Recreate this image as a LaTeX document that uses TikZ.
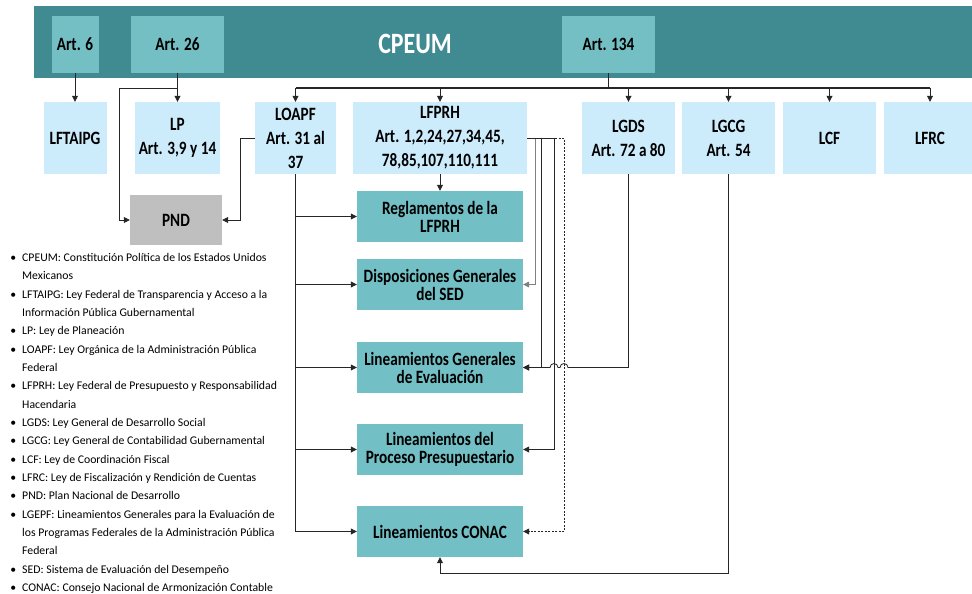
\documentclass[tikz,border=0pt]{standalone}
\usepackage{fontspec}
\setmainfont{Carlito}
\newfontfamily\cajas[FakeStretch=0.81]{Carlito}
\usepackage{tikz}
\usetikzlibrary{arrows.meta}

\definecolor{banda}{HTML}{3F8B91}
\definecolor{articulo}{HTML}{74BFC4}
\definecolor{leyazul}{HTML}{CCEBFB}
\definecolor{lineam}{HTML}{72BFC5}
\definecolor{plan}{HTML}{BFBFBF}

\begin{document}
\begin{tikzpicture}[x=1pt,y=-1pt,
	art/.style={rectangle,fill=articulo,minimum height=57pt,inner sep=0pt,font=\cajas\bfseries\fontsize{18.8}{22}\selectfont},
	ley/.style={rectangle,fill=leyazul,minimum height=72pt,inner sep=0pt,align=center,font=\cajas\bfseries\fontsize{18.8}{24}\selectfont},
	lin/.style={rectangle,fill=lineam,minimum width=166pt,minimum height=51pt,inner sep=0pt,align=center,font=\cajas\bfseries\fontsize{18.8}{18}\selectfont},
	linea/.style={line width=0.8pt,color=black!85},
	flecha/.style={linea,-{Triangle[length=6pt,width=6pt]}}]

	\useasboundingbox (0,0) rectangle (972,594);

	% constitution band

	\fill[banda] (34,6) rectangle (972,78);
	\node[text=white,font=\cajas\bfseries\fontsize{29.5}{32}\selectfont] (cpeum) at (415,44) {CPEUM};
	\node[art,minimum width=47pt] (art6) at (75,44.5) {Art. 6};
	\node[art,minimum width=93pt] (art26) at (177.5,44.5) {Art. 26};
	\node[art,minimum width=93pt] (art134) at (608.5,44.5) {Art. 134};

	% laws

	\node[ley,minimum width=63pt] (lftaipg) at (75,138) {LFTAIPG};
	\node[ley,minimum width=85pt] (lp) at (177.5,138) {LP\\Art. 3,9 y 14};
	\node[ley,minimum width=81pt] (loapf) at (295.5,138) {LOAPF\\Art. 31 al\\37};
	\node[ley,minimum width=174pt] (lfprh) at (440,138) {LFPRH\\Art. 1,2,24,27,34,45,\\78,85,107,110,111};
	\node[ley,minimum width=93pt] (lgds) at (628.5,138) {LGDS\\Art. 72 a 80};
	\node[ley,minimum width=93pt] (lgcg) at (728.5,138) {LGCG\\Art. 54};
	\node[ley,minimum width=93pt] (lcf) at (829.5,138) {LCF};
	\node[ley,minimum width=92pt] (lfrc) at (930,138) {LFRC};

	\node[rectangle,fill=plan,minimum width=92pt,minimum height=50pt,font=\cajas\bfseries\fontsize{18.8}{22}\selectfont] (pnd) at (176,220) {PND};

	% guidelines

	\node[lin] (regl) at (440,216.5) {Reglamentos de la\\LFPRH};
	\node[lin] (disp) at (440,284.5) {Disposiciones Generales\\del SED};
	\node[lin] (lineval) at (440,367.5) {Lineamientos Generales\\de Evaluación};
	\node[lin] (linpres) at (440,449.5) {Lineamientos del\\Proceso Presupuestario};
	\node[lin] (linconac) at (440,531.5) {Lineamientos CONAC};

	% arrows from the articles

	\coordinate (bus) at (608.5,88);
	\coordinate (codo) at (119,88);
	\coordinate (fondo) at (600,573);

	\draw[flecha] (art6.south) -- (lftaipg.north);
	\draw[flecha] (art26.south) -- (lp.north);
	\draw[flecha] (art26.south |- bus) -- (codo) |- (pnd.west);
	\draw[linea,line width=1.2pt] (art134.south) -- (bus);
	\draw[linea,line width=1.2pt] (loapf.north |- bus) -- (lfrc.north |- bus);
	\foreach \n in {loapf,lfprh,lgds,lgcg,lcf,lfrc}
		\draw[flecha] (\n.north |- bus) -- (\n.north);

	% arrows from the laws

	\draw[flecha] (loapf.west) -- ++(-14,0) |- (pnd.east);
	\draw[linea] (loapf.south) -- (loapf.south |- linconac.west);
	\foreach \n in {regl,disp,lineval,linpres,linconac}
		\draw[flecha] (loapf.south |- \n.west) -- (\n.west);

	\draw[flecha] (lfprh.south) -- (regl.north);
	\draw[flecha,dash pattern=on 2pt off 1.5pt] (lfprh.east) -- ++(37,0) |- (linconac.east);
	\draw[flecha,color=gray] (lfprh.east) -- ++(8,0) |- (disp.east);
	\draw[flecha] (lfprh.east) -- ++(14,0) |- (lineval.east);
	\draw[flecha] (lfprh.east) -- ++(27,0) |- (linpres.east);

	\draw[flecha] (lgds.south) |- (568,367.5) arc[start angle=0,end angle=180,radius=4pt] -- (558,367.5) arc[start angle=0,end angle=180,radius=4pt] -- (lineval.east);
	\draw[flecha] (lgcg.south) -- (lgcg.south |- fondo) -| (linconac.south);

	% glossary

	\node[anchor=north west,inner sep=0pt,font=\fontsize{11.75}{18.35}\selectfont] (glosario) at (9,253) {%
	\begin{minipage}{300pt}
	\begin{list}{\textbullet}{\setlength\leftmargin{13pt}\setlength\labelsep{6pt}\setlength\labelwidth{7pt}%
		\setlength\itemsep{0pt}\setlength\parsep{0pt}\setlength\topsep{0pt}\setlength\partopsep{0pt}}
	\item CPEUM: Constitución Política de los Estados Unidos\\Mexicanos
	\item LFTAIPG: Ley Federal de Transparencia y Acceso a la\\Información Pública Gubernamental
	\item LP: Ley de Planeación
	\item LOAPF: Ley Orgánica de la Administración Pública\\Federal
	\item LFPRH: Ley Federal de Presupuesto y Responsabilidad\\Hacendaria
	\item LGDS: Ley General de Desarrollo Social
	\item LGCG: Ley General de Contabilidad Gubernamental
	\item LCF: Ley de Coordinación Fiscal
	\item LFRC: Ley de Fiscalización y Rendición de Cuentas
	\item PND: Plan Nacional de Desarrollo
	\item LGEPF: Lineamientos Generales para la Evaluación de\\los Programas Federales de la Administración Pública\\Federal
	\item SED: Sistema de Evaluación del Desempeño
	\item CONAC: Consejo Nacional de Armonización Contable
	\end{list}
	\end{minipage}};

\end{tikzpicture}
\end{document}
